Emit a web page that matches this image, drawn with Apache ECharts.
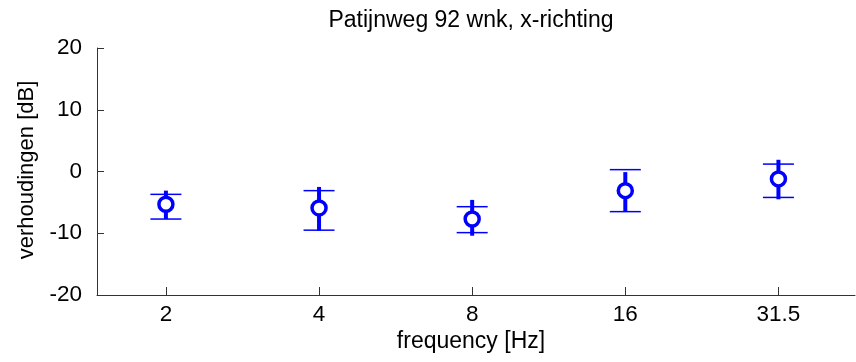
<!DOCTYPE html>
<html>
<head>
<meta charset="utf-8">
<script src="https://cdn.jsdelivr.net/npm/echarts@6/dist/echarts.min.js"></script>
<style>html,body{margin:0;padding:0;background:#fff}#c{width:856px;height:362px}</style>
</head>
<body>
<div id="c"></div>
<script>
const categories = ['2', '4', '8', '16', '31.5'];
const meanValues = [-5.3, -5.9, -7.7, -3.1, -1.2];
const barHigh = [-3.1, -2.5, -4.6, -0.1, 1.9];
const barLow = [-7.7, -9.6, -10.4, -6.5, -4.5];
const capHigh = [-3.7, -3.1, -5.7, 0.3, 1.2];
const capLow = [-7.7, -9.5, -9.9, -6.5, -4.2];
const yTicks = [-20, -10, 0, 10, 20];

const titleText = 'Patijnweg 92 wnk, x-richting';
const xName = 'frequency [Hz]';
const yName = 'verhoudingen [dB]';

const FONT = 'Liberation Sans, Arial, sans-serif';
const BLUE = '#0000ff';
const AX = '#333333';
const positions = categories.map((c, i) => i + 1);
const data = categories.map((c, i) => [i + 1, meanValues[i], barLow[i], barHigh[i], capLow[i], capHigh[i]]);

const chart = echarts.init(document.getElementById('c'), null, {renderer: 'canvas'});
chart.setOption({
  animation: false,
  backgroundColor: '#fff',
  grid: {left: 97, right: 1, top: 48, bottom: 67, containLabel: false},
  xAxis: {
    type: 'value', min: 0.55, max: 5.5,
    axisLine: {show: true, onZero: false, lineStyle: {color: AX, width: 1}},
    axisTick: {show: true, inside: true, length: 8, customValues: positions, lineStyle: {color: AX}},
    axisLabel: {
      customValues: positions, margin: 8, color: '#000', fontFamily: FONT, fontSize: 22.5,
      formatter: v => categories[Math.round(v) - 1] || ''
    },
    splitLine: {show: false}
  },
  yAxis: {
    type: 'value', min: -20, max: 20, interval: 10,
    axisLine: {show: true, onZero: false, lineStyle: {color: AX, width: 1}},
    axisTick: {show: true, inside: true, length: 7, lineStyle: {color: AX}},
    axisLabel: {margin: 15, color: '#000', fontFamily: FONT, fontSize: 22.5,
      customValues: yTicks},
    splitLine: {show: false}
  },
  graphic: [
    {type: 'text', x: 471, y: 21, style: {text: titleText, fontFamily: FONT, fontSize: 23, fill: '#000', align: 'center', verticalAlign: 'middle'}},
    {type: 'text', x: 471, y: 342, style: {text: xName, fontFamily: FONT, fontSize: 23, fill: '#000', align: 'center', verticalAlign: 'middle'}},
    {type: 'text', x: 27, y: 170, rotation: Math.PI / 2, style: {text: yName, fontFamily: FONT, fontSize: 22, fill: '#000', align: 'center', verticalAlign: 'middle'}}
  ],
  series: [{
    type: 'custom',
    data: data,
    encode: {x: 0, y: [1, 2, 3, 4, 5]},
    renderItem: function (params, api) {
      const x = api.value(0);
      const c = api.coord([x, api.value(1)]);
      const bl = api.coord([x, api.value(2)]);
      const bh = api.coord([x, api.value(3)]);
      const cl = api.coord([x, api.value(4)]);
      const ch = api.coord([x, api.value(5)]);
      const hw = 15.5;
      return {
        type: 'group',
        children: [
          {type: 'line', shape: {x1: c[0], y1: bl[1], x2: c[0], y2: bh[1]}, style: {stroke: BLUE, lineWidth: 4}},
          {type: 'line', shape: {x1: c[0] - hw, y1: cl[1], x2: c[0] + hw, y2: cl[1]}, style: {stroke: BLUE, lineWidth: 1.5}},
          {type: 'line', shape: {x1: c[0] - hw, y1: ch[1], x2: c[0] + hw, y2: ch[1]}, style: {stroke: BLUE, lineWidth: 1.5}},
          {type: 'circle', shape: {cx: c[0], cy: c[1], r: 7}, style: {fill: '#fff', stroke: BLUE, lineWidth: 3.5}}
        ]
      };
    }
  }]
});
</script>
</body>
</html>
